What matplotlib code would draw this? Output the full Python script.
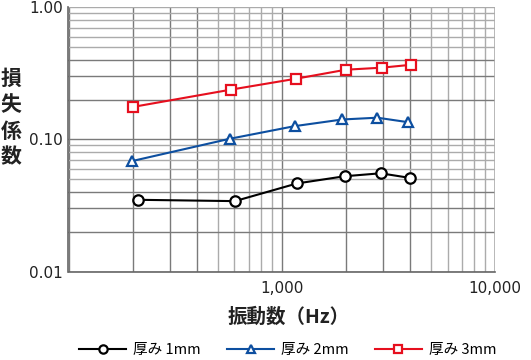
import numpy as np
import matplotlib
matplotlib.use("Agg")
import matplotlib.pyplot as plt
from matplotlib.ticker import FixedLocator, FixedFormatter, NullLocator

plt.rcParams['font.family'] = ['Noto Sans CJK JP', 'DejaVu Sans']

# values
freq_1mm = [211, 603, 1178, 1971, 2908, 3996]
loss_1mm = [0.0349, 0.0341, 0.0464, 0.0526, 0.0554, 0.0511]
freq_2mm = [199, 569, 1149, 1923, 2806, 3909]
loss_2mm = [0.0686, 0.101, 0.126, 0.1415, 0.146, 0.135]
freq_3mm = [200, 577, 1166, 2000, 2940, 4030]
loss_3mm = [0.176, 0.238, 0.288, 0.337, 0.349, 0.367]

series_labels = ['厚み 1mm', '厚み 2mm', '厚み 3mm']
x_ticks = [1000, 10000]
x_tick_labels = ['1,000', '10,000']
y_ticks = [0.01, 0.1, 1.0]
y_tick_labels = ['0.01', '0.10', '1.00']

W, H = 531, 360
fig = plt.figure(figsize=(W / 100, H / 100), dpi=100)
ax = fig.add_axes([68.5 / W, 1 - 271.5 / H, (495 - 68.5) / W, (271.5 - 7.3) / H])

ax.set_xscale('log')
ax.set_yscale('log')
ax.set_xlim(100, 10000)
ax.set_ylim(0.01, 1.0)

# log grid, darker for 2-4, lighter for 5-9
dark, light = '#7a7a7a', '#ababab'
for k in (100, 1000):
    for m in range(1, 10):
        ax.axvline(m * k, color=dark if m <= 4 else light, lw=1.0, zorder=1)
for k in (0.01, 0.1):
    for m in range(1, 10):
        ax.axhline(m * k, color=dark if m <= 4 else light, lw=1.0, zorder=1)
ax.axvline(10000, color=light, lw=1.2, zorder=1)
ax.axhline(1.0, color=light, lw=1.0, zorder=1)

mk = dict(markersize=7.5, markerfacecolor='white', markeredgewidth=1.6, lw=1.5, zorder=3)
ax.plot(freq_1mm, loss_1mm, color='black', marker='o', label=series_labels[0], **mk)
ax.plot(freq_2mm, loss_2mm, color='#0d4fa0', marker='^', label=series_labels[1], **mk)
ax.plot(freq_3mm, loss_3mm, color='#e60f1e', marker='s', label=series_labels[2], **mk)

ax.xaxis.set_major_locator(FixedLocator(x_ticks))
ax.xaxis.set_major_formatter(FixedFormatter(x_tick_labels))
ax.xaxis.set_minor_locator(NullLocator())
ax.yaxis.set_major_locator(FixedLocator(y_ticks))
ax.yaxis.set_major_formatter(FixedFormatter(y_tick_labels))
ax.yaxis.set_minor_locator(NullLocator())
ax.tick_params(length=0, labelsize=11, colors='#222222')
ax.tick_params(axis='x', pad=7)
ax.tick_params(axis='y', pad=4)
for lbl in ax.get_xticklabels() + ax.get_yticklabels():
    lbl.set_family('DejaVu Sans')

for s in ('top', 'right'):
    ax.spines[s].set_visible(False)
for s in ('left', 'bottom'):
    ax.spines[s].set_color('#666666')
    ax.spines[s].set_linewidth(1.2)
    ax.spines[s].set_zorder(2)

fig.text(289 / W, 1 - 317 / H, '振動数（Hz）', ha='center', va='center', fontsize=14,
         fontweight='bold', color='#222222')
fig.text(11 / W, 1 - 118 / H, '損\n失\n係\n数', ha='center', va='center', fontsize=15,
         fontweight='bold', linespacing=1.3, color='#222222')

fig.legend(loc='center', bbox_to_anchor=(288 / W, 1 - 350 / H), ncol=3, frameon=False,
           fontsize=10.5, handlelength=3.2, columnspacing=1.8, handletextpad=0.5,
           markerscale=0.8)

fig.savefig('out.png', dpi=100)
